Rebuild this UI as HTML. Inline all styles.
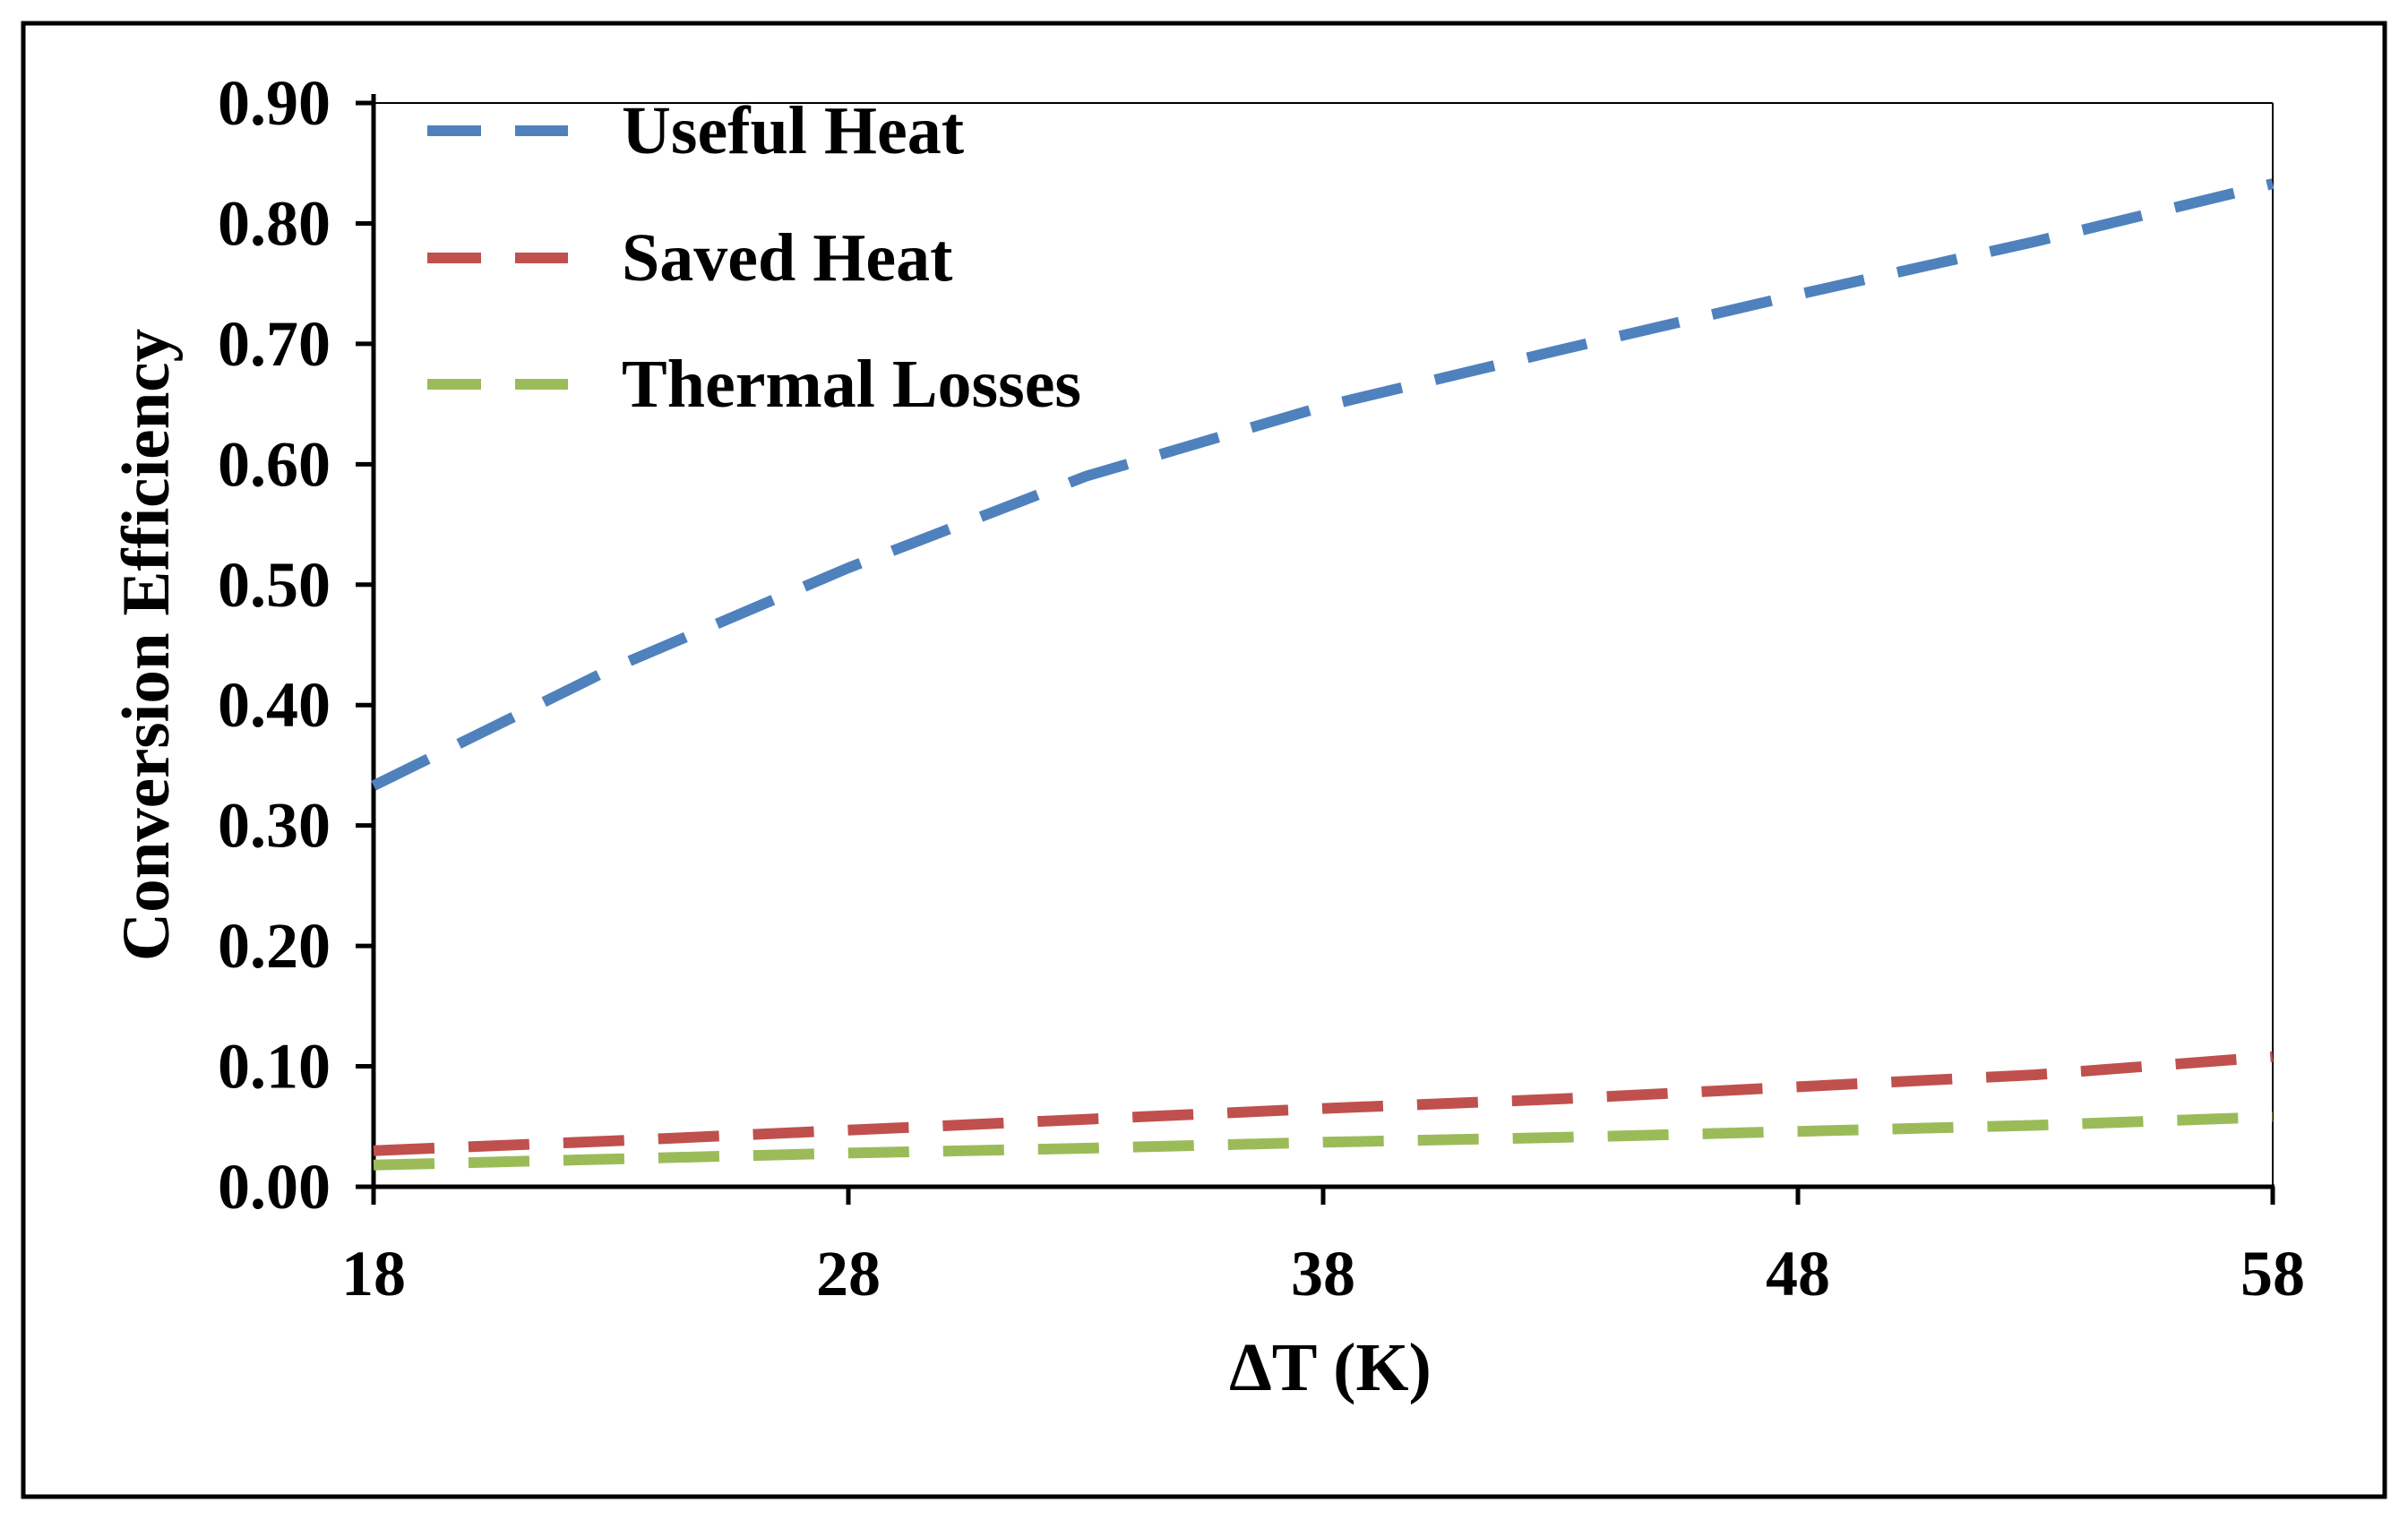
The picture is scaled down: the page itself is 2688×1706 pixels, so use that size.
<!DOCTYPE html>
<html><head><meta charset="utf-8"><style>
html,body{margin:0;padding:0;background:#fff}
svg{display:block}
text{font-family:"Liberation Serif",serif;font-weight:bold;fill:#000}
</style></head><body>
<svg id="chart" width="2688" height="1706" viewBox="0 0 2688 1706">
<rect x="26" y="26" width="2636" height="1645" fill="none" stroke="#000" stroke-width="5"/>
<g id="plot"></g>
</svg>
<script>
const xValues=[18,23,28,33,38,43,48,53,58];
const usefulHeat=[0.333,0.43,0.514,0.59,0.648,0.695,0.741,0.785,0.833];
const savedHeat=[0.03,0.038,0.047,0.056,0.065,0.073,0.083,0.093,0.108];
const thermalLosses=[0.018,0.023,0.028,0.032,0.037,0.041,0.046,0.051,0.058];
const xTicks=[18,28,38,48,58];
const yTicks=[0,0.1,0.2,0.3,0.4,0.5,0.6,0.7,0.8,0.9];
const seriesNames=["Useful Heat","Saved Heat","Thermal Losses"];

const L=417,R=2537,T=115,B=1325;
const sx=v=>L+(v-18)/(58-18)*(R-L);
const sy=v=>B-(v-0)/(0.9-0)*(B-T);
const NS="http://www.w3.org/2000/svg";
const g=document.getElementById('plot');
function mk(tag,attrs){const e=document.createElementNS(NS,tag);for(const k in attrs)e.setAttribute(k,attrs[k]);g.appendChild(e);return e;}

let e=mk('line',{x1:L,y1:T-10,x2:L,y2:B+20,stroke:'#000','stroke-width':5});


e=mk('line',{x1:L-20,y1:B,x2:R+2,y2:B,stroke:'#000','stroke-width':5});


e=mk('line',{x1:L,y1:T,x2:R,y2:T,stroke:'#000','stroke-width':2});


e=mk('line',{x1:R,y1:T,x2:R,y2:B,stroke:'#000','stroke-width':2});



yTicks.forEach(v=>{
  const y=sy(v);
  let t=mk('line',{x1:L-20,y1:y,x2:L,y2:y,stroke:'#000','stroke-width':5});
  
  
  let tx=mk('text',{x:369,y:y+24,'text-anchor':'end','font-size':72});
  tx.textContent=v.toFixed(2);
  
  
});
xTicks.forEach(v=>{
  const x=sx(v);
  let t=mk('line',{x1:x,y1:B,x2:x,y2:B+20,stroke:'#000','stroke-width':5});
  
  
  let tx=mk('text',{x:x,y:1446,'text-anchor':'middle','font-size':72});
  tx.textContent=v;
  
  
});

let xt=mk('text',{x:1485,y:1552,'text-anchor':'middle','font-size':76});
xt.textContent='ΔT (K)';


let yt=mk('text',{x:0,y:0,'text-anchor':'middle','font-size':75,transform:'translate(188,720) rotate(-90)'});
yt.textContent='Conversion Efficiency';



const colors=['#4f81bd','#c0504d','#9bbb59'];
const data=[usefulHeat,savedHeat,thermalLosses];
const ids=['useful-heat','saved-heat','thermal-losses'];
data.forEach((ser,i)=>{
  const d=ser.map((v,j)=>(j?'L':'M')+sx(xValues[j]).toFixed(1)+','+sy(v).toFixed(1)).join(' ');
  let p=mk('path',{d:d,fill:'none',stroke:colors[i],'stroke-width':12,'stroke-dasharray':'68 38'});
  
  
  const ly=[146,288,429][i];
  let ll=mk('line',{x1:477,y1:ly,x2:634,y2:ly,stroke:colors[i],'stroke-width':12,'stroke-dasharray':'60 38'});
  
  
  let lt=mk('text',{x:694,y:ly+25,'font-size':76});
  lt.textContent=seriesNames[i];
  
  
});
</script>
</body></html>
